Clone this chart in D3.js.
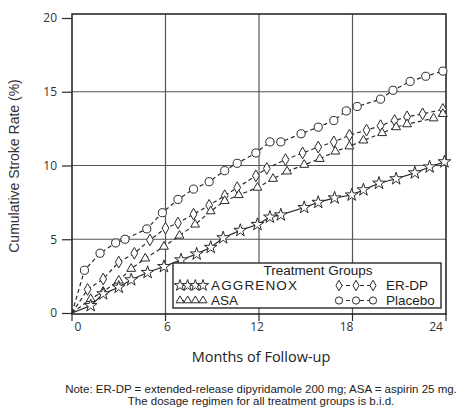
<!DOCTYPE html>
<html>
<head>
<meta charset="utf-8">
<script src="https://cdn.jsdelivr.net/npm/d3@7/dist/d3.min.js"></script>
<style>
  body { margin:0; background:#fff; }
  svg { display:block; }
  .tick-label { font-family:"Open Sans", sans-serif; font-size:12px; fill:#333; }
</style>
</head>
<body>
<div id="chart"></div>
<script>

//******************************************************************************
//**  Data
//******************************************************************************
// [month, cumulative stroke rate %]
var placebo = [[0,0],[0.8,2.9],[1.8,4.05],[2.8,4.75],[3.4,5.0],[4.8,5.7],[5.8,6.8],[6.8,7.7],[7.8,8.4],[8.8,8.9],[9.8,9.65],[10.6,10.15],[11.8,10.85],[12.7,11.6],[13.4,11.6],[14.7,12.15],[15.8,12.6],[16.8,13.05],[17.6,13.7],[18.3,14.0],[19.8,14.5],[20.6,15.1],[21.7,15.7],[22.7,16.05],[23.8,16.4]];
var erdp = [[0,0],[1.0,1.6],[2.0,2.3],[3.0,3.45],[4.0,4.05],[5.0,4.95],[6.0,5.75],[6.8,6.1],[7.8,6.7],[8.8,7.3],[9.8,7.95],[10.6,8.5],[11.8,9.3],[12.5,9.8],[13.7,10.4],[14.8,10.85],[15.8,11.25],[16.8,11.6],[17.8,12.05],[18.9,12.4],[19.8,12.7],[20.7,13.05],[21.5,13.3],[22.5,13.5],[23.8,13.8]];
var asa = [[0,0],[1.2,0.95],[2.0,1.45],[3.0,2.2],[3.8,3.0],[4.7,3.7],[5.9,4.5],[6.9,5.25],[7.9,6.0],[8.9,6.9],[9.8,7.6],[10.7,8.0],[11.9,8.5],[12.9,9.1],[13.8,9.6],[14.9,10.05],[15.9,10.45],[16.9,10.95],[17.8,11.3],[18.7,11.7],[19.9,12.2],[20.8,12.6],[21.5,12.8],[23.2,13.2],[23.8,13.5]];
var aggrenox = [[0,0],[1.2,0.5],[2.0,1.3],[3.0,1.75],[3.8,2.25],[4.85,2.75],[5.9,3.15],[7.0,3.6],[8.0,4.0],[8.9,4.45],[9.7,5.1],[10.8,5.6],[11.9,6.0],[12.7,6.5],[13.4,6.65],[14.9,7.15],[15.8,7.5],[16.85,7.8],[17.95,8.0],[18.7,8.35],[19.7,8.8],[20.8,9.1],[22.0,9.5],[22.95,9.9],[23.9,10.25]];

var xTicks = [0, 6, 12, 18, 24];
var yTicks = [0, 5, 10, 15, 20];
var noteLines = [
  "Note: ER-DP = extended-release dipyridamole 200 mg; ASA = aspirin 25 mg.",
  "The dosage regimen for all treatment groups is b.i.d."
];


//******************************************************************************
//**  Chart
//******************************************************************************
var width = 466, height = 409;

var svg = d3.select("#chart").append("svg")
    .attr("width", width)
    .attr("height", height);

var x = d3.scaleLinear().domain([0, 24]).range([72, 446]);
var y = d3.scaleLinear().domain([0, 20]).range([313, 18]);
// the printed month labels sit slightly off their ticks
var xLabel = d3.scaleLinear().domain([0, 24]).range([78, 436]);

var ink = "#2a2a2a";


//**************************************************************************
//** Grid + frame
//**************************************************************************
var grid = svg.append("g");

grid.selectAll(".hgrid").data(yTicks.slice(1, -1)).enter().append("line")
    .attr("x1", x(0)).attr("x2", x(24))
    .attr("y1", function(d){ return y(d); })
    .attr("y2", function(d){ return y(d); })
    .attr("stroke", "#555").attr("stroke-width", 1.2);

grid.selectAll(".vgrid").data(xTicks.slice(1, -1)).enter().append("line")
    .attr("y1", y(0)).attr("y2", 14)
    .attr("x1", function(d){ return x(d); })
    .attr("x2", function(d){ return x(d); })
    .attr("stroke", "#555").attr("stroke-width", 1.2);

grid.append("rect")
    .attr("x", x(0)).attr("y", 14)
    .attr("width", x(24) - x(0))
    .attr("height", y(0) + 1 - 14)
    .attr("fill", "none")
    .attr("stroke", ink).attr("stroke-width", 1.6);


//**************************************************************************
//** Axes
//**************************************************************************
var yAxis = d3.axisLeft(y).tickValues(yTicks).tickSize(10).tickPadding(5);
var yg = svg.append("g").attr("transform", "translate(" + x(0) + ",0)").call(yAxis);
yg.select(".domain").remove();
yg.selectAll("line").attr("stroke", ink).attr("stroke-width", 1.2);
yg.selectAll("text").attr("class", "tick-label");

var xg = svg.append("g");
xg.selectAll("line").data(xTicks).enter().append("line")
    .attr("x1", function(d){ return x(d); })
    .attr("x2", function(d){ return x(d); })
    .attr("y1", y(0)).attr("y2", y(0) + 8)
    .attr("stroke", ink).attr("stroke-width", 1.2);
xg.selectAll("text").data(xTicks).enter().append("text")
    .attr("class", "tick-label")
    .attr("x", function(d){ return xLabel(d); })
    .attr("y", 331)
    .attr("text-anchor", "middle")
    .text(function(d){ return d; });

svg.append("text")
    .attr("transform", "translate(19,166) rotate(-90)")
    .attr("text-anchor", "middle")
    .style("font-family", "Liberation Sans Narrow, Liberation Sans, sans-serif")
    .style("font-size", "14px")
    .attr("fill", "#333")
    .text("Cumulative Stroke Rate (%)");

svg.append("text")
    .attr("x", 261).attr("y", 362)
    .attr("text-anchor", "middle")
    .style("font-family", "Open Sans, sans-serif")
    .style("font-size", "14.5px")
    .attr("fill", "#222")
    .text("Months of Follow-up");

svg.selectAll(".note").data(noteLines).enter().append("text")
    .attr("x", 261)
    .attr("y", function(d, i){ return 393 + i * 12; })
    .attr("text-anchor", "middle")
    .style("font-family", "Liberation Sans, sans-serif")
    .style("font-size", "11.5px")
    .attr("fill", "#222")
    .text(function(d){ return d; });


//**************************************************************************
//** Series
//**************************************************************************
var series = [
  {name:"Placebo",  data:placebo,  dash:"4,3", symbol:d3.symbolCircle,   size:52},
  {name:"ER-DP",    data:erdp,     dash:"4,3", symbol:d3.symbolDiamond,  size:40},
  {name:"ASA",      data:asa,      dash:"4,3", symbol:d3.symbolTriangle, size:34},
  {name:"AGGRENOX", data:aggrenox, dash:null,  symbol:d3.symbolStar,     size:50}
];

var line = d3.line()
    .x(function(d){ return x(d[0]); })
    .y(function(d){ return y(d[1]); });

series.forEach(function(s){
    svg.append("path")
        .datum(s.data)
        .attr("d", line)
        .attr("fill", "none")
        .attr("stroke", ink)
        .attr("stroke-width", 1.2)
        .attr("stroke-dasharray", s.dash);

    svg.append("g").selectAll("path")
        .data(s.data.slice(1)).enter().append("path")
        .attr("transform", function(d){ return "translate(" + x(d[0]) + "," + y(d[1]) + ")"; })
        .attr("d", d3.symbol().type(s.symbol).size(s.size))
        .attr("fill", "#fff")
        .attr("stroke", ink)
        .attr("stroke-width", 1);
});


//**************************************************************************
//** Legend
//**************************************************************************
var legend = svg.append("g");

legend.append("rect")
    .attr("x", 173).attr("y", 263)
    .attr("width", 268).attr("height", 45)
    .attr("fill", "#fff")
    .attr("stroke", ink).attr("stroke-width", 1.4);

legend.append("text")
    .attr("x", 318).attr("y", 275)
    .attr("text-anchor", "middle")
    .style("font-family", "Liberation Sans, sans-serif")
    .style("font-size", "13.5px")
    .attr("fill", "#222")
    .text("Treatment Groups");

var legendItems = [
  {s:series[3], x:180, w:23, n:4, tx:211, ty:290, len:86},
  {s:series[2], x:180, w:23, n:4, tx:211, ty:305, len:null},
  {s:series[1], x:339, w:34, n:3, tx:386, ty:290, len:null},
  {s:series[0], x:339, w:34, n:3, tx:386, ty:305, len:null}
];

legendItems.forEach(function(it){
    var cy = it.ty - 4.5;
    legend.append("line")
        .attr("x1", it.x).attr("x2", it.x + it.w)
        .attr("y1", cy).attr("y2", cy)
        .attr("stroke", ink).attr("stroke-width", 1.1)
        .attr("stroke-dasharray", it.s.dash);
    var pts = d3.range(it.n).map(function(i){ return it.x + i * it.w / (it.n - 1); });
    legend.append("g").selectAll("path").data(pts).enter().append("path")
        .attr("transform", function(d){ return "translate(" + d + "," + cy + ")"; })
        .attr("d", d3.symbol().type(it.s.symbol).size(it.s.size * 0.8))
        .attr("fill", "#fff").attr("stroke", ink).attr("stroke-width", 1);
    var t = legend.append("text")
        .attr("x", it.tx).attr("y", it.ty)
        .style("font-family", "Liberation Sans, sans-serif")
        .style("font-size", "13.5px")
        .attr("fill", "#222")
        .text(it.s.name);
    if (it.len) t.attr("textLength", it.len).attr("lengthAdjust", "spacing");
});

</script>
</body>
</html>
